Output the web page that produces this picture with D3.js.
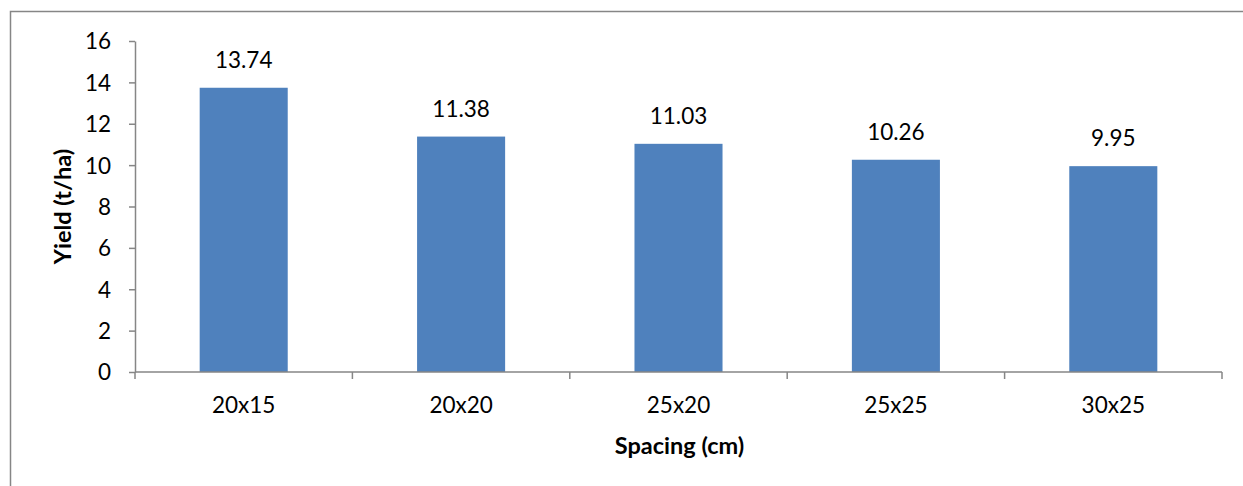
<!DOCTYPE html>
<html>
<head>
<meta charset="utf-8">
<script src="https://cdn.jsdelivr.net/npm/d3@7"></script>
<style>
  html, body { margin: 0; padding: 0; background: #fff; }
  svg text { font-family: Lato, "Open Sans", sans-serif; fill: #000; }
</style>
</head>
<body>
<svg id="chart" width="1243" height="486"></svg>
<script>
// Rice yield by plant spacing
const spacings = ["20x15", "20x20", "25x20", "25x25", "30x25"];
const yields = [13.74, 11.38, 11.03, 10.26, 9.95];
const yTicks = [0, 2, 4, 6, 8, 10, 12, 14, 16];
const xTitle = "Spacing (cm)";
const yTitle = "Yield (t/ha)";

const svg = d3.select("#chart");
const axisColor = "#868686";
const barColor = "#4F81BD";
const fontSize = 22.5;

// chart frame
svg.append("path")
  .attr("d", "M10.5,486 V11.5 H1243")
  .attr("fill", "none")
  .attr("stroke", axisColor)
  .attr("stroke-width", 1.5);

const plot = { left: 135, right: 1222, top: 41, bottom: 372 };

const x = d3.scaleBand()
  .domain(spacings)
  .range([plot.left, plot.right])
  .paddingInner(0.595)
  .paddingOuter(0.2975);

const y = d3.scaleLinear()
  .domain([0, 16])
  .range([plot.bottom, plot.top]);

// bars
svg.append("g").selectAll("rect")
  .data(spacings)
  .join("rect")
  .attr("x", d => x(d))
  .attr("width", x.bandwidth())
  .attr("y", (d, i) => y(yields[i]))
  .attr("height", (d, i) => y(0) - y(yields[i]))
  .attr("fill", barColor);

// value labels
svg.append("g").selectAll("text")
  .data(spacings)
  .join("text")
  .attr("x", d => x(d) + x.bandwidth() / 2)
  .attr("y", (d, i) => y(yields[i]) - 20)
  .attr("text-anchor", "middle")
  .attr("font-size", fontSize)
  .text((d, i) => yields[i].toFixed(2));

// y axis
const yAxis = svg.append("g")
  .attr("transform", `translate(${plot.left},0)`)
  .call(d3.axisLeft(y).tickValues(yTicks).tickSize(6).tickPadding(18).tickSizeOuter(0));
yAxis.select(".domain").attr("stroke", axisColor).attr("stroke-width", 1.5);
yAxis.selectAll(".tick line").attr("stroke", axisColor).attr("stroke-width", 1.5);
yAxis.selectAll(".tick text").attr("font-size", fontSize).attr("font-family", "Lato, sans-serif").attr("fill", "#000").attr("dy", "0.35em");

// x axis: line plus ticks at category boundaries
const xAxisG = svg.append("g").attr("transform", `translate(0,${plot.bottom})`);
xAxisG.append("line")
  .attr("x1", plot.left).attr("x2", plot.right)
  .attr("stroke", axisColor).attr("stroke-width", 1.5);
const bounds = d3.range(spacings.length + 1).map(i => plot.left + i * (plot.right - plot.left) / spacings.length);
xAxisG.selectAll("line.b")
  .data(bounds)
  .join("line")
  .attr("class", "b")
  .attr("x1", d => d).attr("x2", d => d)
  .attr("y1", 0).attr("y2", 7)
  .attr("stroke", axisColor).attr("stroke-width", 1.5);
xAxisG.selectAll("text")
  .data(spacings)
  .join("text")
  .attr("x", d => x(d) + x.bandwidth() / 2)
  .attr("y", 41)
  .attr("text-anchor", "middle")
  .attr("font-size", fontSize)
  .text(d => d);

// axis titles
svg.append("text")
  .attr("x", (plot.left + plot.right) / 2 + 1)
  .attr("y", 454)
  .attr("text-anchor", "middle")
  .attr("font-size", 23.5)
  .attr("font-weight", "bold")
  .text(xTitle);

svg.append("text")
  .attr("transform", `translate(71,${(plot.top + plot.bottom) / 2}) rotate(-90)`)
  .attr("text-anchor", "middle")
  .attr("font-size", 23.5)
  .attr("font-weight", "bold")
  .text(yTitle);
</script>
</body>
</html>
